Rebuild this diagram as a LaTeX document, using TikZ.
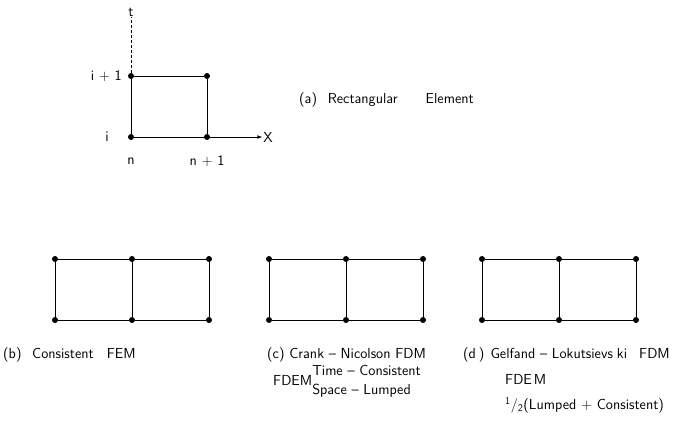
\documentclass[tikz,border=0pt]{standalone}
\usepackage{fontspec}
\usetikzlibrary{arrows.meta,positioning}

\begin{document}
\begin{tikzpicture}[
    x=1pt, y=-1pt,
    dot/.style={circle, fill, inner sep=0pt, minimum size=6pt},
    mesh/.style={line width=0.95pt},
    lbl/.style={font=\sffamily\fontsize{14.5}{16}\selectfont, inner sep=1pt},
    arrow/.style={-Latex}
]
\useasboundingbox (0,0) rectangle (684,436);

% (a) single element
\node[dot] (a1) at (131,137) {};
\node[dot] (a2) at (207,137) {};
\node[dot] (a3) at (207,76) {};
\node[dot] (a4) at (131,76) {};
\draw[mesh] (a1) -- (a2) -- (a3) -- (a4) -- (a1);
\node[lbl] (tax) at (131,12) {t};
\draw[densely dashed, thin] (a4) -- (tax);
\node[lbl] (xax) at (268,137) {X};
\draw[arrow, thin] (a2) -- (xax);
\node[lbl, anchor=east] (ip1) at (123,76) {i + 1};
\node[lbl, anchor=east] (ii) at (110,137) {i};
\node[lbl] (nn) at (131,161) {n};
\node[lbl] (np1) at (207,161) {n + 1};
\node[lbl, anchor=west] (capa) at (298,100) {(a)\hspace{6pt} Rectangular\hspace{28pt}Element};

% (b), (c), (d) two-element meshes
\foreach \m/\x in {b/55, c/269, d/482} {
    \node[dot] (\m1) at (\x,320) {};
    \node[dot] (\m2) at (\x+77,320) {};
    \node[dot] (\m3) at (\x+154,320) {};
    \node[dot] (\m4) at (\x+154,259) {};
    \node[dot] (\m5) at (\x+77,259) {};
    \node[dot] (\m6) at (\x,259) {};
    \draw[mesh] (\m1) -- (\m2) -- (\m3) -- (\m4) -- (\m5) -- (\m6) -- (\m1);
    \draw[mesh] (\m2) -- (\m5);
}

\node[lbl, anchor=west] (capb) at (2,355) {(b)\hspace{6pt} Consistent\hspace{13pt}FEM};
\node[lbl, anchor=west] (capc) at (266,355) {(c) Crank -- Nicolson FDM};
\node[lbl, anchor=west] (fdemc) at (272,382)
    {FDEM\begin{tabular}{@{}l@{}}Time -- Consistent\\[3pt] Space -- Lumped\end{tabular}};
\node[lbl, anchor=west] (capd) at (462,355)
    {(d\hspace{3pt})\hspace{6pt}Gelfand -- Lokutsievs\hspace{4pt}ki\hspace{12pt}FDM};
\node[lbl, anchor=west] (fdemd) at (504,379) {FDE\hspace{2pt}M};
\node[lbl, anchor=west] (halfd) at (504,405) {\textsuperscript{1}/\textsubscript{2}(Lumped + Consistent)};
\end{tikzpicture}
\end{document}
